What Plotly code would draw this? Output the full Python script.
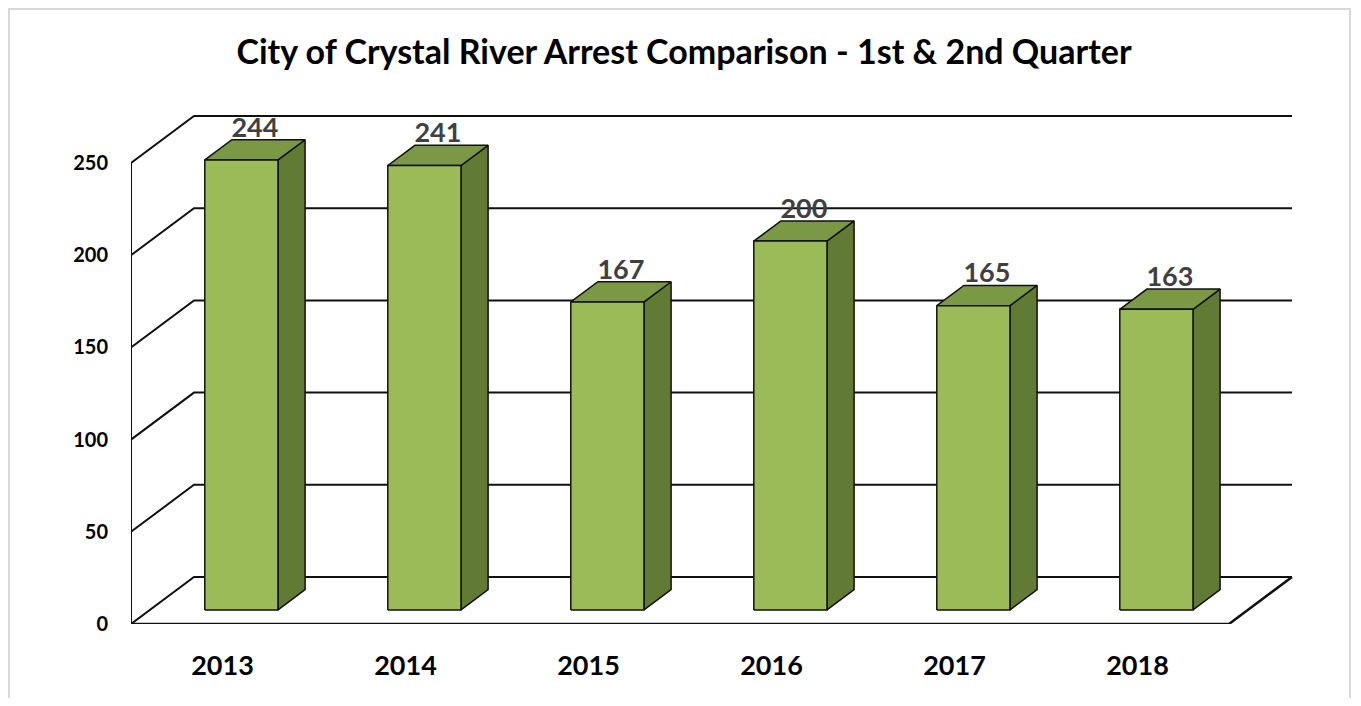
import plotly.graph_objects as go

# ---- data ----
years = ["2013", "2014", "2015", "2016", "2017", "2018"]
arrests = [244, 241, 167, 200, 165, 163]
y_ticks = [0, 50, 100, 150, 200, 250]
title_text = "City of Crystal River Arrest Comparison - 1st & 2nd Quarter"

# ---- style / geometry constants ----
W, H = 1361, 706
OFF = 8                 # page body margin
FW, FH = W - 2 * OFF, H - 2 * OFF
PX_L, PX_R, PX_T, PX_B = 131, 1300, 100, 624       # plot area in page pixels
X0, X1 = -0.5, -0.5 + (PX_R - PX_L) / 183.0          # x range (category units)
Y1 = (PX_B - PX_T) / 1.844                            # y range top (data units)
DX = 63 / 183.0        # depth offset in x units
DY = 47 / 1.844        # depth offset in y units
F0 = 0.30              # bar front plane depth fraction
FD = 0.43              # bar depth fraction
BW = 0.40              # bar width
LABEL_DROP = 2.0       # label nudge (data units)
FRONT, TOP, SIDE = "#9BBB59", "#7B9844", "#627B34"
EDGE = "#111111"
FONT = "Lato"

fig = go.Figure()

n = len(years)
xl_wall, xr_wall = -0.5, n - 0.5

# back wall gridlines + left wall slanted lines
for v in y_ticks:
    fig.add_trace(go.Scatter(x=[xl_wall, xl_wall + DX, xr_wall + DX], y=[v, v + DY, v + DY],
                             mode="lines", line=dict(color="#111111", width=2),
                             hoverinfo="skip", showlegend=False))
# left wall front edge
fig.add_trace(go.Scatter(x=[xl_wall, xl_wall], y=[0, y_ticks[-1]], mode="lines",
                         line=dict(color="#111111", width=2), hoverinfo="skip", showlegend=False))
# floor front edge + right edge
fig.add_trace(go.Scatter(x=[xl_wall, xr_wall, xr_wall + DX], y=[0, 0, DY], mode="lines",
                         line=dict(color="#111111", width=2.5), hoverinfo="skip", showlegend=False))

# bars
for i, v in enumerate(arrests):
    xl = i - BW / 2 + F0 * DX
    xr = i + BW / 2 + F0 * DX
    yb = F0 * DY
    yt = v + F0 * DY
    ddx, ddy = FD * DX, FD * DY
    # side face
    fig.add_trace(go.Scatter(x=[xr, xr, xr + ddx, xr + ddx, xr], y=[yb, yt, yt + ddy, yb + ddy, yb],
                             fill="toself", fillcolor=SIDE, mode="lines",
                             line=dict(color=EDGE, width=1.5), hoverinfo="skip", showlegend=False))
    # top face
    fig.add_trace(go.Scatter(x=[xl, xr, xr + ddx, xl + ddx, xl], y=[yt, yt, yt + ddy, yt + ddy, yt],
                             fill="toself", fillcolor=TOP, mode="lines",
                             line=dict(color=EDGE, width=1.5), hoverinfo="skip", showlegend=False))
    # front face
    fig.add_trace(go.Scatter(x=[xl, xr, xr, xl, xl], y=[yb, yb, yt, yt, yb],
                             fill="toself", fillcolor=FRONT, mode="lines",
                             line=dict(color=EDGE, width=1.5), hoverinfo="text",
                             text=f"{years[i]}: {v}", showlegend=False))

# data labels
fig.add_trace(go.Scatter(
    x=[i + F0 * DX + FD * DX / 2 for i in range(n)],
    y=[v + (F0 + FD) * DY - LABEL_DROP for v in arrests],
    mode="text", text=[str(v) for v in arrests], textposition="top center",
    textfont=dict(family=FONT, size=27, color="#404040", weight="bold"),
    hoverinfo="skip", showlegend=False))

# outer border
def px2paper_x(p):
    return (p - PX_L) / (PX_R - PX_L)

def px2paper_y(p):
    return (PX_B - p) / (PX_B - PX_T)

fig.add_shape(type="rect", xref="paper", yref="paper",
              x0=px2paper_x(9), x1=px2paper_x(1350), y0=px2paper_y(730), y1=px2paper_y(9),
              line=dict(color="#D9D9D9", width=2), layer="below")

fig.update_layout(
    width=FW, height=FH,
    margin=dict(l=PX_L - OFF, r=FW - (PX_R - OFF), t=PX_T - OFF, b=FH - (PX_B - OFF)),
    paper_bgcolor="white", plot_bgcolor="white",
    title=dict(text=title_text, x=(684 - OFF) / FW, xref="container", xanchor="center",
               y=1 - (52 - OFF) / FH, yref="container", yanchor="middle",
               font=dict(family=FONT, size=34, color="#000000", weight="bold")),
    xaxis=dict(range=[X0, X1], tickvals=list(range(n)), ticktext=years,
               showgrid=False, zeroline=False, showline=False, ticks="",
               ticklabelstandoff=23,
               tickfont=dict(family=FONT, size=27, color="#000000", weight="bold")),
    yaxis=dict(range=[0, Y1], tickvals=y_ticks, showgrid=False, zeroline=False,
               showline=False, ticks="", ticklabelstandoff=22,
               tickfont=dict(family=FONT, size=20, color="#000000", weight="bold")),
    showlegend=False,
)

fig.write_html("out.html")
